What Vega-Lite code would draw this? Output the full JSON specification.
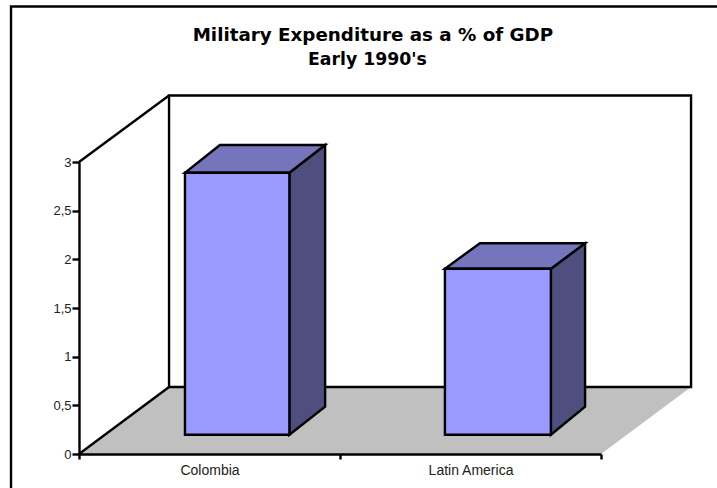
{
"$schema":"https://vega.github.io/schema/vega-lite/v6.json",
"width":522,"height":292,
"autosize":{"type":"none"},
"padding":{"left":79,"top":162,"right":116,"bottom":34},
"background":"white",
"config":{"view":{"stroke":null}},
"datasets":{
"border":[{"x":-0.2605,"x2":2.6,"y":4.598,"y2":-0.6}],
"wall":[{"x":0.345,"x2":2.345,"y":0.688,"y2":3.683}],
"floor":[{"y":0,"x":0,"x2":2},{"y":0.688,"x":0.345,"x2":2.345}],
"edges":[{"edge":"top","x":0,"y":3},{"edge":"top","x":0.345,"y":3.683},{"edge":"bottom","x":0,"y":0},{"edge":"bottom","x":0.345,"y":0.688}],
"fronts":[{"region":"Colombia","x":0.406,"x2":0.806,"y":0.198,"y2":2.89},{"region":"Latin America","x":1.402,"x2":1.808,"y":0.198,"y2":1.904}],
"tops":[{"region":"Colombia","y":2.89,"x":0.406,"x2":0.806},{"region":"Colombia","y":3.175,"x":0.54,"x2":0.943},{"region":"Latin America","y":1.904,"x":1.402,"x2":1.808},{"region":"Latin America","y":2.165,"x":1.536,"x2":1.939}],
"sides":[{"region":"Colombia","x":0.806,"y":0.198,"y2":2.89},{"region":"Colombia","x":0.943,"y":0.486,"y2":3.175},{"region":"Latin America","x":1.808,"y":0.198,"y2":1.904},{"region":"Latin America","x":1.939,"y":0.486,"y2":2.165}],
"heading1":[{"line":"Military Expenditure as a % of GDP","x":1.126,"y":4.243}],
"heading2":[{"line":"Early 1990's","x":1.105,"y":3.997}]
},
"layer":[
{"data":{"name":"border"},"mark":{"type":"rect","filled":false,"stroke":"black","strokeWidth":2.4},
 "encoding":{"x":{"field":"x","type":"quantitative","scale":{"domain":[0,2],"nice":false,"zero":false},"title":null,
   "axis":{"orient":"bottom","values":[0,1,2],"labels":false,"grid":false,"domain":true,"domainColor":"black","domainWidth":2.4,"tickColor":"black","tickWidth":2.4,"tickSize":5,"zindex":1,"title":null}},
  "x2":{"field":"x2"},
  "y":{"field":"y","type":"quantitative","scale":{"domain":[0,3],"nice":false,"zero":false},"title":null,
   "axis":{"orient":"left","values":[0,0.5,1,1.5,2,2.5,3],"grid":false,"domainColor":"black","domainWidth":2.4,"tickColor":"black","tickWidth":2.4,"tickSize":7,"labelPadding":1,"labelFont":"Liberation Sans","labelFontSize":13,"labelColor":"#222222","labelExpr":"replace(format(datum.value,'~g'),'.',',')","zindex":1,"title":null}},
  "y2":{"field":"y2"}}},
{"data":{"name":"floor"},"mark":{"type":"area","orient":"horizontal","fill":"#C0C0C0"},
 "encoding":{"y":{"field":"y","type":"quantitative","axis":null},"x":{"field":"x","type":"quantitative",
   "axis":{"orient":"bottom","values":[0.5,1.5],"ticks":false,"domain":false,"grid":false,"labelPadding":9,"labelFont":"Liberation Sans","labelFontSize":14,"labelColor":"#222222","labelExpr":"datum.value<1?'Colombia':'Latin America'","title":null}},"x2":{"field":"x2"}}},
{"data":{"name":"wall"},"mark":{"type":"rect","filled":false,"stroke":"black","strokeWidth":2.4},
 "encoding":{"x":{"field":"x","type":"quantitative","axis":null},"x2":{"field":"x2"},"y":{"field":"y","type":"quantitative","axis":null},"y2":{"field":"y2"}}},
{"data":{"name":"edges"},"mark":{"type":"line","stroke":"black","strokeWidth":2.4},
 "encoding":{"x":{"field":"x","type":"quantitative","axis":null},"y":{"field":"y","type":"quantitative","axis":null},"detail":{"field":"edge"}}},
{"data":{"name":"sides"},"mark":{"type":"area","fill":"#4F4F7F","stroke":"black","strokeWidth":2.4},
 "encoding":{"x":{"field":"x","type":"quantitative","axis":null},"y":{"field":"y","type":"quantitative","axis":null},"y2":{"field":"y2"},"detail":{"field":"region"}}},
{"data":{"name":"tops"},"mark":{"type":"area","orient":"horizontal","fill":"#7575BD","stroke":"black","strokeWidth":2.4},
 "encoding":{"y":{"field":"y","type":"quantitative","axis":null},"x":{"field":"x","type":"quantitative","axis":null},"x2":{"field":"x2"},"detail":{"field":"region"}}},
{"data":{"name":"fronts"},"mark":{"type":"rect","fill":"#9999FF","stroke":"black","strokeWidth":2.4},
 "encoding":{"x":{"field":"x","type":"quantitative","axis":null},"x2":{"field":"x2"},"y":{"field":"y","type":"quantitative","axis":null},"y2":{"field":"y2"}}},
{"data":{"name":"heading1"},"mark":{"type":"text","font":"DejaVu Sans","fontSize":18.3,"fontWeight":"bold","color":"black","align":"center","baseline":"alphabetic"},
 "encoding":{"x":{"field":"x","type":"quantitative","axis":null},"y":{"field":"y","type":"quantitative","axis":null},"text":{"field":"line"}}},
{"data":{"name":"heading2"},"mark":{"type":"text","font":"DejaVu Sans","fontSize":17.3,"fontWeight":"bold","color":"black","align":"center","baseline":"alphabetic"},
 "encoding":{"x":{"field":"x","type":"quantitative","axis":null},"y":{"field":"y","type":"quantitative","axis":null},"text":{"field":"line"}}}
],
"resolve":{"axis":{"x":"independent","y":"independent"}}
}
